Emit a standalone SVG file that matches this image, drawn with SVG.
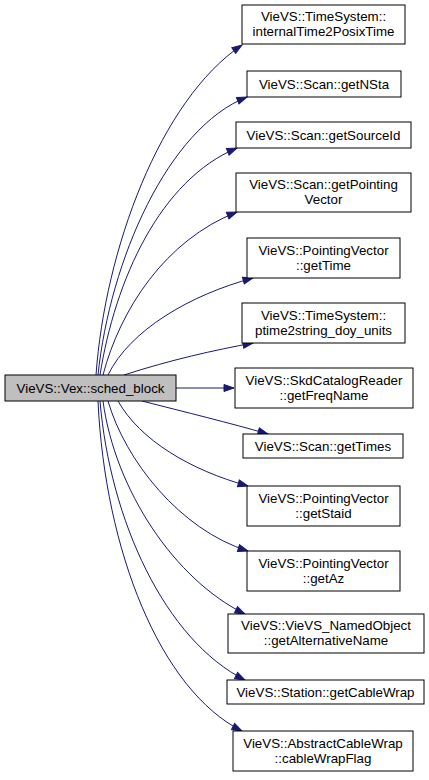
<svg xmlns="http://www.w3.org/2000/svg" width="429" height="780" viewBox="0 0 429 780">
<style>
.n rect{fill:#ffffff;stroke:#000000;stroke-width:1}
.m rect{fill:#bfbfbf;stroke:#000000;stroke-width:1}
text{font-family:"Liberation Sans",Arial,sans-serif;font-size:13.33px;fill:#000000;text-anchor:middle}
.e path{fill:none;stroke:#191970;stroke-width:1;marker-end:url(#ah)}
</style>
<defs>
<marker id="ah" markerUnits="userSpaceOnUse" markerWidth="12" markerHeight="10" refX="11" refY="4.5" orient="auto">
<path d="M1,1 L11,4.5 L1,8 z" fill="#191970" stroke="#191970"/>
</marker>
</defs>
<rect width="429" height="780" fill="#ffffff"/>
<g id="edges" class="e">
<path d="M96,375 C105,250 160,100 242,45"/>
<path d="M98,375 C110,260 168,128 247,97"/>
<path d="M100,375 C115,280 160,180 237,148"/>
<path d="M103,375 C120,310 165,240 237,212"/>
<path d="M108,375 C130,330 190,295 253,278"/>
<path d="M124,375 C170,360 215,350 253,343"/>
<path d="M176,388 L234,388"/>
<path d="M142,401 C185,412 230,423 268,434"/>
<path d="M118,401 C140,440 190,470 248,486"/>
<path d="M108,401 C125,460 180,530 248,551"/>
<path d="M103,401 C115,490 175,580 245,614"/>
<path d="M100,401 C110,520 165,640 245,680"/>
<path d="M98,401 C105,550 160,690 242,731"/>
</g>
<g id="main" class="m"><rect x="5" y="375" width="171" height="26"/><text x="90.5" y="392.5">VieVS::Vex::sched_block</text></g>
<g id="n1" class="n"><rect x="242" y="5" width="163" height="39"/><text x="323.5" y="21">VieVS::TimeSystem::</text><text x="323.5" y="36">internalTime2PosixTime</text></g>
<g id="n2" class="n"><rect x="247" y="71" width="154" height="26"/><text x="324" y="88.5">VieVS::Scan::getNSta</text></g>
<g id="n3" class="n"><rect x="236" y="122" width="175" height="26"/><text x="323.5" y="139.5">VieVS::Scan::getSourceId</text></g>
<g id="n4" class="n"><rect x="236" y="173" width="175" height="39"/><text x="323.5" y="189">VieVS::Scan::getPointing</text><text x="323.5" y="204">Vector</text></g>
<g id="n5" class="n"><rect x="247" y="238" width="153" height="40"/><text x="323.5" y="254.5">VieVS::PointingVector</text><text x="323.5" y="269.5">::getTime</text></g>
<g id="n6" class="n"><rect x="242" y="303" width="163" height="40"/><text x="323.5" y="319.5">VieVS::TimeSystem::</text><text x="323.5" y="334.5">ptime2string_doy_units</text></g>
<g id="n7" class="n"><rect x="235" y="368" width="178" height="40"/><text x="324" y="384.5">VieVS::SkdCatalogReader</text><text x="324" y="399.5">::getFreqName</text></g>
<g id="n8" class="n"><rect x="243" y="434" width="160" height="24"/><text x="323" y="450.5">VieVS::Scan::getTimes</text></g>
<g id="n9" class="n"><rect x="247" y="486" width="153" height="40"/><text x="323.5" y="502.5">VieVS::PointingVector</text><text x="323.5" y="517.5">::getStaid</text></g>
<g id="n10" class="n"><rect x="247" y="551" width="153" height="40"/><text x="323.5" y="567.5">VieVS::PointingVector</text><text x="323.5" y="582.5">::getAz</text></g>
<g id="n11" class="n"><rect x="228" y="614" width="196" height="39"/><text x="326" y="630">VieVS::VieVS_NamedObject</text><text x="326" y="645">::getAlternativeName</text></g>
<g id="n12" class="n"><rect x="227" y="680" width="197" height="24"/><text x="325.5" y="696.5">VieVS::Station::getCableWrap</text></g>
<g id="n13" class="n"><rect x="233" y="731" width="180" height="40"/><text x="323" y="747.5">VieVS::AbstractCableWrap</text><text x="323" y="762.5">::cableWrapFlag</text></g>
</svg>
